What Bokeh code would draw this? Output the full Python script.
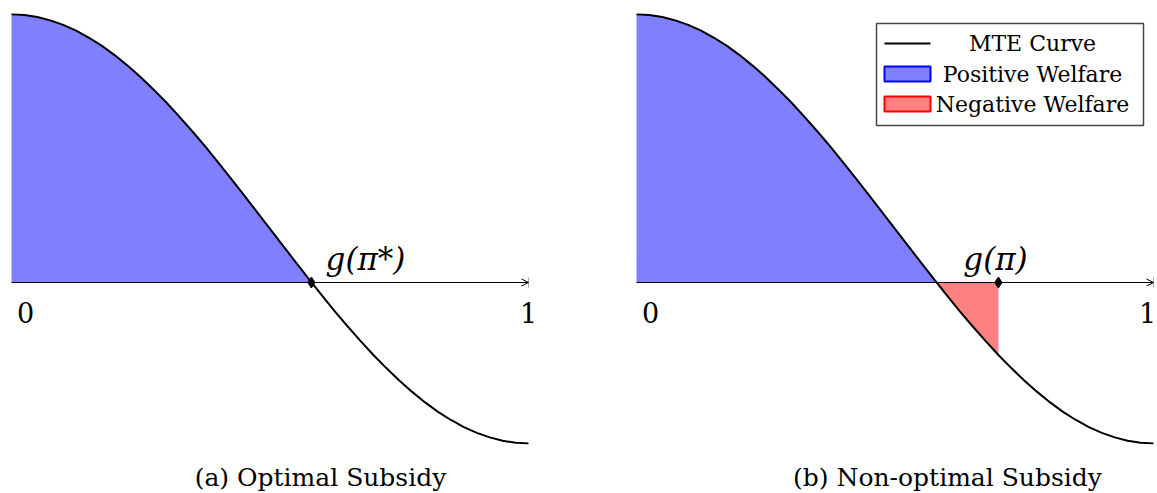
from bokeh.plotting import figure
from bokeh.models import Range1d, Arrow, OpenHead
from bokeh.embed import file_html
from bokeh.resources import INLINE
from bokeh.core.properties import value

# ---- data ----
mte_x = [0.0, 0.025, 0.05, 0.075, 0.1, 0.125, 0.15, 0.175, 0.2, 0.225,
         0.25, 0.275, 0.3, 0.325, 0.35, 0.375, 0.4, 0.425, 0.45, 0.475,
         0.5, 0.525, 0.55, 0.575, 0.6, 0.625, 0.65, 0.675, 0.7, 0.725,
         0.75, 0.775, 0.8, 0.825, 0.85, 0.875, 0.9, 0.925, 0.95, 0.975, 1.0]
mte_y = [1.250, 1.247, 1.238, 1.222, 1.201, 1.174, 1.141, 1.103, 1.059, 1.010,
         0.957, 0.899, 0.838, 0.772, 0.704, 0.633, 0.559, 0.483, 0.406, 0.328,
         0.250, 0.172, 0.094, 0.017, -0.059, -0.133, -0.204, -0.272, -0.338, -0.399,
         -0.457, -0.510, -0.559, -0.603, -0.641, -0.674, -0.701, -0.722, -0.738, -0.747, -0.750]
g_pi_star = 0.58   # optimal subsidy point (curve crosses zero)
g_pi = 0.70        # non-optimal subsidy point
axis_ticks = [0, 1]
tick_labels = ["0", "1"]
point_labels = ["g(π*)", "g(π)"]
captions = ["(a) Optimal Subsidy", "(b) Non-optimal Subsidy"]
legend_labels = ["MTE Curve", "Positive Welfare", "Negative Welfare"]

# ---- layout (pixels of the page) ----
W, H = 1157, 493
PX, PY = 517.0, 214.5
L0, R0, AX = 11, 636, 282
FONT = value("DejaVu Serif")
BLUE_FILL, RED_FILL = "#8080ff", "#ff8080"

p = figure(width=W, height=H,
           x_range=Range1d(-L0 / PX, (W - L0) / PX),
           y_range=Range1d(-(H - AX) / PY, AX / PY),
           output_backend="svg", toolbar_location=None,
           x_axis_location=None, y_axis_location=None, min_border=0)
p.extra_x_ranges = {"r": Range1d(-R0 / PX, (W - R0) / PX)}
p.grid.visible = False
p.outline_line_color = None
p.background_fill_color = "white"
p.border_fill_color = "white"


def ypx(py):
    return (AX - py) / PY


panels = [("default", L0, g_pi_star, point_labels[0], captions[0], 365, 320, 0.0),
          ("r", R0, g_pi, point_labels[1], captions[1], 995, 947, -6.0)]

for rng, off, gpt, glab, cap, glab_px, cap_px, one_shift in panels:
    # positive welfare area
    bx = [x for x in mte_x if x < g_pi_star] + [g_pi_star]
    by = [y for x, y in zip(mte_x, mte_y) if x < g_pi_star] + [0]
    p.varea(x=bx, y1=[0] * len(bx), y2=by, fill_color=BLUE_FILL, x_range_name=rng)
    if rng == "r":
        rx = [g_pi_star] + [x for x in mte_x if g_pi_star < x <= gpt]
        ry = [0] + [y for x, y in zip(mte_x, mte_y) if g_pi_star < x <= gpt]
        p.varea(x=rx, y1=[0] * len(rx), y2=ry, fill_color=RED_FILL, x_range_name=rng)
    # axis
    p.add_layout(Arrow(x_start=axis_ticks[0], y_start=0, x_end=axis_ticks[1], y_end=0,
                       line_width=1, line_color="black",
                       end=OpenHead(size=7, line_width=1, line_color="black"),
                       x_range_name=rng))
    p.segment(x0=[axis_ticks[1]], y0=[-5 / PY], x1=[axis_ticks[1]], y1=[5 / PY],
              line_color="#aaaaaa", line_width=1, x_range_name=rng)
    # curve
    p.line(mte_x, mte_y, line_color="black", line_width=2, x_range_name=rng)
    # marker
    p.scatter([gpt], [0], marker="diamond", size=11, color="black", x_range_name=rng)
    # tick labels
    p.text(x=[14 / PX, axis_ticks[1] + one_shift / PX], y=[ypx(312)] * 2, text=tick_labels,
           text_font=FONT, text_font_size="27px", text_align="center",
           text_baseline="middle", x_range_name=rng)
    # point label
    p.text(x=[(glab_px - off) / PX], y=[ypx(258)], text=[glab], text_font=FONT,
           text_font_style="italic", text_font_size="31px", text_align="center",
           text_baseline="middle", x_range_name=rng)
    # caption
    p.text(x=[(cap_px - off) / PX], y=[ypx(477)], text=[cap], text_font=FONT,
           text_font_size="25px", text_align="center", text_baseline="middle",
           x_range_name=rng)

# ---- legend (right panel) ----
def xr(px):
    return (px - R0) / PX

p.quad(left=[xr(876)], right=[xr(1143)], top=[ypx(23)], bottom=[ypx(125)],
       fill_color="white", line_color="#444444", line_width=1.5, x_range_name="r")
p.line([xr(884), xr(930)], [ypx(43), ypx(43)], line_color="black", line_width=2,
       x_range_name="r")
p.quad(left=[xr(884), xr(884)], right=[xr(930), xr(930)],
       top=[ypx(66), ypx(96)], bottom=[ypx(81), ypx(111)],
       fill_color=[BLUE_FILL, RED_FILL], line_color=["blue", "red"], line_width=2,
       x_range_name="r")
p.text(x=[xr(1032)] * 3, y=[ypx(43), ypx(74), ypx(104)], text=legend_labels,
       text_font=FONT, text_font_size="22px", text_align="center",
       text_baseline="middle", x_range_name="r")

open("out.html", "w").write(file_html(p, INLINE))
